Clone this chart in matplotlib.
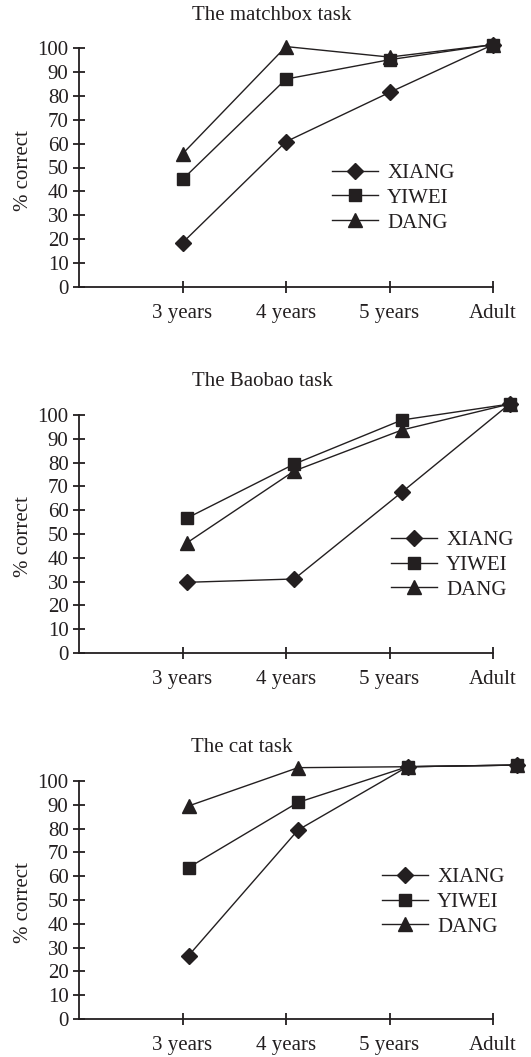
import numpy as np
import matplotlib
matplotlib.use("Agg")
import matplotlib.pyplot as plt

plt.rcParams['font.family'] = ['Liberation Serif', 'DejaVu Serif']
plt.rcParams['font.size'] = 15

INK = '#231f20'

# данные
groups = ['3 years', '4 years', '5 years', 'Adult']
series_names = ['XIANG', 'YIWEI', 'DANG']

titles = ['The matchbox task', 'The Baobao task', 'The cat task']

matchbox_xiang = [18.5, 60.8, 81.4, 101.4]
matchbox_yiwei = [45.0, 87.0, 95.1, 101.4]
matchbox_dang = [55.7, 100.6, 96.2, 101.4]

baobao_xiang = [29.7, 31.1, 67.6, 104.6]
baobao_yiwei = [56.6, 79.4, 97.9, 104.6]
baobao_dang = [46.2, 76.5, 93.7, 104.6]

cat_xiang = [26.6, 79.4, 106.0, 106.7]
cat_yiwei = [63.6, 91.0, 106.0, 106.7]
cat_dang = [89.5, 105.6, 106.0, 106.7]

panels = [
    (matchbox_xiang, matchbox_yiwei, matchbox_dang),
    (baobao_xiang, baobao_yiwei, baobao_dang),
    (cat_xiang, cat_yiwei, cat_dang),
]

# раскладка в пикселях (рисунок 531 x 1057)
W, H = 531, 1057
spine_x, right_x = 79, 493
y0_px = [287, 653, 1019]
y100_px = [48, 415, 781]
title_pos = [(272, 15), (262, 382), (242, 748)]
legend_pos = [(332, 198), (391, 565), (382, 902)]
ylabel_y = [171, 537, 903]
x_stretch = [1.0, 1.04, 1.058]  # точки чуть смещены вправо на скане

markers = ['D', 's', '^']
msizes = [8.3, 8.0, 10.0]
zorders = [3, 5, 4]  # квадрат поверх остальных, как на оригинале

fig = plt.figure(figsize=(W / 100, H / 100), dpi=100)

for i, data in enumerate(panels):
    left = spine_x / W
    width = (right_x - spine_x) / W
    bottom = 1 - y0_px[i] / H
    height = (y0_px[i] - y100_px[i]) / H
    ax = fig.add_axes([left, bottom, width, height])

    x = np.arange(1, len(groups) + 1) * x_stretch[i]
    for vals, name, m, ms, z in zip(data, series_names, markers, msizes, zorders):
        ax.plot(x, vals, color=INK, linewidth=1.0, marker=m, markersize=ms,
                markerfacecolor=INK, markeredgecolor=INK, label=name,
                clip_on=False, zorder=z)

    ax.set_xlim(0, 4)
    ax.set_ylim(0, 100)
    ax.set_xticks(np.arange(1, len(groups) + 1))
    ax.set_xticklabels(groups)
    ax.set_yticks(np.arange(0, 101, 10))
    ax.spines['top'].set_visible(False)
    ax.spines['right'].set_visible(False)
    for s in ['left', 'bottom']:
        ax.spines[s].set_color(INK)
        ax.spines[s].set_linewidth(1.3)
    ax.tick_params(axis='both', direction='inout', length=9, width=1.3, colors=INK,
                   labelsize=15, labelcolor=INK)
    ax.tick_params(axis='x', pad=8)
    ax.tick_params(axis='y', pad=3)

    fig.text(title_pos[i][0] / W, 1 - title_pos[i][1] / H, titles[i],
             ha='center', va='center', fontsize=15, color=INK)
    fig.text(24 / W, 1 - ylabel_y[i] / H, '% correct', rotation=90,
             ha='center', va='center', fontsize=15, color=INK)

    ax.legend(loc='center left',
              bbox_to_anchor=(legend_pos[i][0] / W, 1 - legend_pos[i][1] / H),
              bbox_transform=fig.transFigure, frameon=False, fontsize=15,
              handlelength=2.2, handletextpad=0.45, labelspacing=0.25,
              borderpad=0, borderaxespad=0, labelcolor=INK)

fig.savefig('out.png', dpi=100)
